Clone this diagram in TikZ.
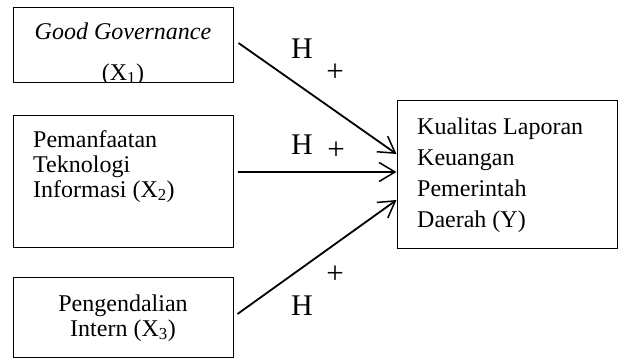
\documentclass[tikz,border=0pt]{standalone}
\usepackage{fontspec}
\setmainfont{Liberation Serif}
\usetikzlibrary{positioning,arrows.meta}

\begin{document}
\begin{tikzpicture}[x=1pt, y=-1pt,
  every node/.style={font=\fontsize{24}{25}\selectfont},
  box/.style={draw, line width=1pt, minimum width=220pt, inner sep=0pt},
  txt/.style={inner sep=0pt},
  hyp/.style={inner sep=0pt, font=\fontsize{30}{30}\selectfont},
  sgn/.style={inner sep=0pt, font=\fontsize{31}{31}\selectfont},
  link/.style={line width=1.8pt, -{Straight Barb[length=16pt,width=19pt,line width=1.5pt]}},
]
\useasboundingbox (0,0) rectangle (621,359);
% boxes
\node[box, minimum height=75pt]  (x1) at (123,44.5) {};
\node[box, minimum height=132pt] (x2) at (123,181) {};
\node[box, minimum height=80pt]  (x3) at (123,317) {};
\node[box, minimum height=148pt] (y)  at (507,174) {};
% texts (base = baseline of the last line)
\begin{scope}
  \clip (x1.south west) rectangle (x1.north east);
  \node[txt, anchor=base] (t1a) at (123,39) {\textit{Good Governance}};
  \node[txt, anchor=base] (t1b) at (123,80) {(X\textsubscript{1})};
\end{scope}
\node[txt, anchor=base west, align=left] (t2) at (33,197)
  {Pemanfaatan\\Teknologi\\Informasi (X\textsubscript{2})};
\node[txt, anchor=base, align=center] (t3) at (123,336)
  {Pengendalian\\Intern (X\textsubscript{3})};
\node[txt, anchor=base west, align=left, font=\fontsize{24}{31}\selectfont] (ty) at (417,227)
  {Kualitas Laporan\\Keuangan\\Pemerintah\\Daerah (Y)};
% arrows
\draw[link] ([xshift=5pt,yshift=1.5pt]x1.east) -- ([yshift=20pt]y.west);
\draw[link] ([xshift=4pt,yshift=9pt]x2.east)   -- ([yshift=2pt]y.west);
\draw[link] ([xshift=4pt,yshift=3pt]x3.east)   -- ([yshift=-26pt]y.west);
% hypothesis labels
\node[hyp] (h1) at (302,49)  {H};
\node[sgn] (p1) at (335,73)  {+};
\node[hyp] (h2) at (302,145) {H};
\node[sgn] (p2) at (336,151) {+};
\node[hyp] (h3) at (302,306) {H};
\node[sgn] (p3) at (335,275) {+};
\end{tikzpicture}
\end{document}
